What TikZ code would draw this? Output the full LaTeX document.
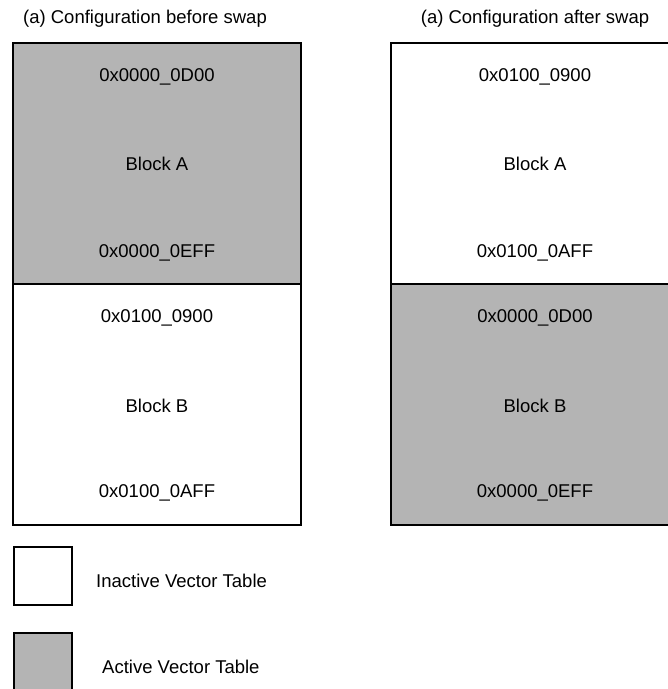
\documentclass[tikz,border=0pt]{standalone}
\usepackage{fontspec}
\setmainfont{Liberation Sans}
\definecolor{activegray}{RGB}{180,180,180}
\begin{document}
\begin{tikzpicture}[x=1pt,y=-1pt,
  cell/.style={draw=black,line width=2pt,minimum width=288pt,minimum height=241pt,inner sep=0pt,outer sep=0pt},
  active/.style={cell,fill=activegray},
  inactive/.style={cell,fill=white},
  lbl/.style={font=\fontsize{18.5}{20}\selectfont,inner sep=0pt,anchor=center},
  legbox/.style={draw=black,line width=2pt,minimum width=58pt,minimum height=58pt,inner sep=0pt}]
\useasboundingbox (0,0) rectangle (668,689);
\clip (0,0) rectangle (668,689);
% titles
\node[lbl] (t1) at (145,19) {(a) Configuration before swap};
\node[lbl] (t2) at (535,19) {(a) Configuration after swap};
% left column
\node[active] (LA) at (157,163) {};
\node[inactive] (LB) at (157,404.5) {};
\node[lbl] (la1) at (157,77) {0x0000\_0D00};
\node[lbl] (la2) at (157,164) {Block A};
\node[lbl] (la3) at (157,253) {0x0000\_0EFF};
\node[lbl] (lb1) at (157,318) {0x0100\_0900};
\node[lbl] (lb2) at (157,406) {Block B};
\node[lbl] (lb3) at (157,493) {0x0100\_0AFF};
% right column
\node[inactive] (RA) at (535,163) {};
\node[active] (RB) at (535,404.5) {};
\node[lbl] (ra1) at (535,77) {0x0100\_0900};
\node[lbl] (ra2) at (535,164) {Block A};
\node[lbl] (ra3) at (535,253) {0x0100\_0AFF};
\node[lbl] (rb1) at (535,318) {0x0000\_0D00};
\node[lbl] (rb2) at (535,406) {Block B};
\node[lbl] (rb3) at (535,493) {0x0000\_0EFF};
% legend
\node[legbox,fill=white] (g1) at (43,575.5) {};
\node[legbox,fill=activegray] (g2) at (43,662) {};
\node[lbl,anchor=west] (g1t) at (96,581) {Inactive Vector Table};
\node[lbl,anchor=west] (g2t) at (102,667) {Active Vector Table};
\end{tikzpicture}
\end{document}
